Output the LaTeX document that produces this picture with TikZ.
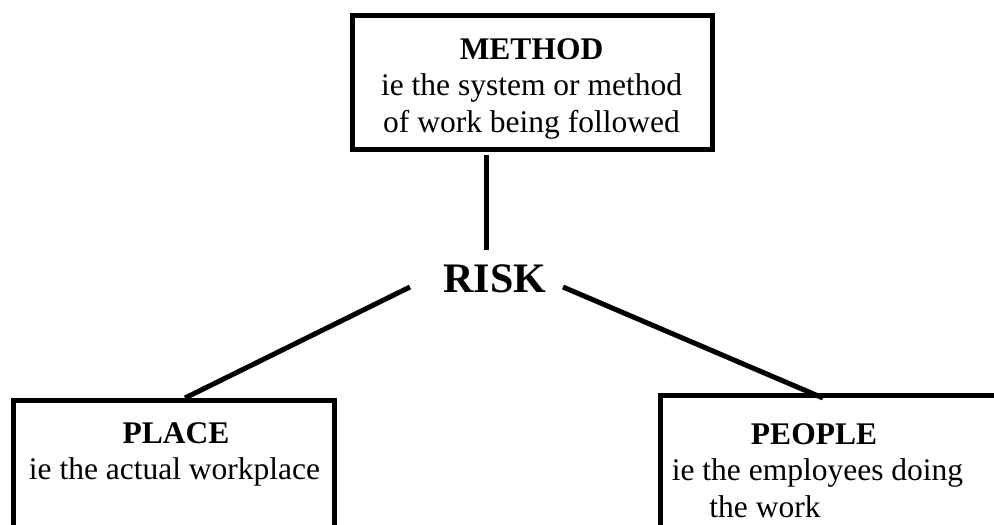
\documentclass[tikz,border=0pt]{standalone}
\usepackage{fontspec}
\setmainfont{Liberation Serif}
\begin{document}
\begin{tikzpicture}[x=1pt,y=-1pt,
  frame/.style={draw, rectangle, line width=5pt, inner sep=0pt},
  body/.style={font=\fontsize{31.5}{36.5}\selectfont, inner sep=0pt, anchor=base},
  head/.style={body, font=\bfseries\fontsize{31.5}{36.5}\selectfont},
  link/.style={line width=5pt}]
\useasboundingbox (0,0) rectangle (994,525);
\clip (0,0) rectangle (994,525);

% boxes
\node[frame, minimum width=360pt, minimum height=134pt] (method) at (532.5,82.5) {};
\node[frame, minimum width=321pt, minimum height=180pt] (place) at (174,490) {};
\node[frame, minimum width=380pt, minimum height=200pt] (people) at (850.5,495) {};

% box texts
\node[head] (methodT) at (531.5,59) {METHOD};
\node[body] (methodA) at (531.5,95.5) {ie the system or method};
\node[body] (methodB) at (531.5,132) {of work being followed};

\node[head] (placeT) at (176,443) {PLACE};
\node[body] (placeA) at (174.5,479.5) {ie the actual workplace};

\node[head] (peopleT) at (814,444) {PEOPLE};
\node[body] (peopleA) at (817.5,480.5) {ie the employees doing};
\node[body] (peopleB) at (765,517) {the work};

% centre word
\node[font=\bfseries\fontsize{42}{48}\selectfont, inner sep=0pt, anchor=base] (risk) at (495,292) {RISK};

% connector ends
\coordinate (methodJoin) at (486,155);
\coordinate (riskN) at (486,250);
\coordinate (riskW) at (410,287);
\coordinate (riskE) at (563,287);
\coordinate (placeJoin) at (185,398);
\coordinate (peopleJoin) at (823,398);

\draw[link] (methodJoin) -- (riskN);
\draw[link] (riskW) -- (placeJoin);
\draw[link] (riskE) -- (peopleJoin);
\end{tikzpicture}
\end{document}
